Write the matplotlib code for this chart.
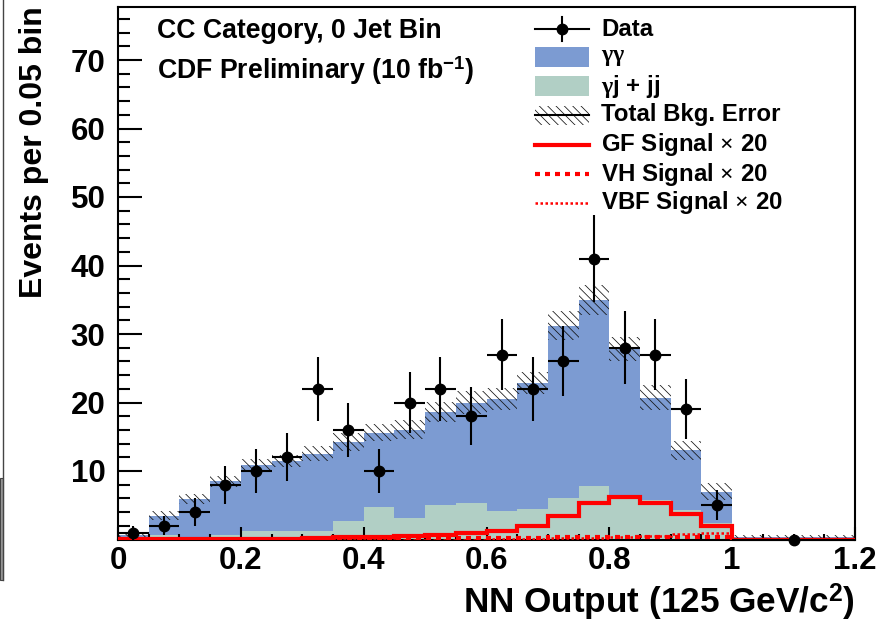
import numpy as np
import matplotlib
matplotlib.use("Agg")
import matplotlib.pyplot as plt
from matplotlib.lines import Line2D
from matplotlib.patches import Rectangle

plt.rcParams['font.family'] = ['Liberation Sans', 'DejaVu Sans']
plt.rcParams['font.weight'] = 'bold'
plt.rcParams['mathtext.fontset'] = 'custom'
plt.rcParams['mathtext.rm'] = 'Liberation Serif'
plt.rcParams['mathtext.it'] = 'Liberation Serif:italic'
plt.rcParams['mathtext.bf'] = 'Liberation Sans:bold'
plt.rcParams['hatch.linewidth'] = 0.55

HATCH = '\\\\\\\\'

# ---------------- data ----------------
bin_edges = [0.0, 0.05, 0.1, 0.15, 0.2, 0.25, 0.3, 0.35, 0.4, 0.45, 0.5, 0.55,
             0.6, 0.65, 0.7, 0.75, 0.8, 0.85, 0.9, 0.95, 1.0, 1.05, 1.1, 1.15, 1.2]

# gamma-jet + jet-jet background (bottom of stack)
bkg_gj_jj = [0.3, 0.7, 0.3, 0.7, 1.3, 1.3, 1.3, 2.7, 4.7, 3.1, 5.0, 5.4,
             4.1, 4.4, 6.0, 7.8, 6.0, 5.8, 4.3, 2.4, 0.1, 0.1, 0.1, 0.1]
# diphoton background (stacked on top)
bkg_gg = [0.4, 2.8, 5.6, 7.8, 9.6, 10.2, 11.2, 11.5, 10.9, 12.9, 13.6, 14.6,
          16.4, 18.5, 25.2, 27.2, 21.8, 14.9, 8.7, 4.6, 0.2, 0.2, 0.2, 0.2]
# total background uncertainty
bkg_err = [0.3, 0.6, 0.7, 0.8, 0.8, 0.9, 1.1, 1.3, 1.2, 1.4, 1.5, 1.7,
           1.6, 1.6, 2.1, 2.2, 1.8, 1.8, 1.4, 1.2, 0.3, 0.3, 0.3, 0.3]

# signals (x20)
sig_gf = [0.1, 0.1, 0.1, 0.1, 0.1, 0.1, 0.25, 0.3, 0.3, 0.55, 0.7, 0.9,
          1.3, 2.0, 3.4, 5.3, 6.25, 5.4, 3.7, 2.0, 0.0, 0.0, 0.0, 0.0]
sig_vh = [0.0, 0.0, 0.0, 0.0, 0.0, 0.0, 0.1, 0.1, 0.1, 0.15, 0.15, 0.2,
          0.2, 0.25, 0.3, 0.35, 0.4, 0.4, 0.35, 0.3, 0.0, 0.0, 0.0, 0.0]
sig_vbf = [0.0, 0.0, 0.0, 0.0, 0.0, 0.0, 0.0, 0.0, 0.0, 0.0, 0.0, 0.0,
           0.05, 0.1, 0.15, 0.2, 0.3, 0.5, 0.8, 0.9, 0.0, 0.0, 0.0, 0.0]

# observed data
data_x = [0.025, 0.075, 0.125, 0.175, 0.225, 0.275, 0.325, 0.375, 0.425, 0.475,
          0.525, 0.575, 0.625, 0.675, 0.725, 0.775, 0.825, 0.875, 0.925, 0.975, 1.1]
data_y = [1, 2, 4, 8, 10, 12, 22, 16, 10, 20, 22, 18, 27, 22, 26, 41, 28, 27, 19, 5, 0]
data_xerr = [0.025] * 20 + [0.1]
data_yerr = [1.0, 1.4, 2.0, 2.8, 3.2, 3.5, 4.7, 4.0, 3.2, 4.5, 4.7, 4.2,
             5.2, 4.7, 5.1, 6.4, 5.3, 5.2, 4.4, 2.2, 0.0]

x_ticks = [0, 0.2, 0.4, 0.6, 0.8, 1.0, 1.2]
x_ticklabels = ['0', '0.2', '0.4', '0.6', '0.8', '1', '1.2']
y_ticks = [10, 20, 30, 40, 50, 60, 70]

BLUE = '#7c9bd2'
GREEN = '#b1cfc5'

# ---------------- figure ----------------
W, H = 892, 624
fig = plt.figure(figsize=(W / 100, H / 100), dpi=100)
L, R, T, B = 118, 855, 7, 539.5
ax = fig.add_axes([L / W, (H - B) / H, (R - L) / W, (B - T) / H])

edges = np.array(bin_edges)
gj = np.array(bkg_gj_jj)
gg = np.array(bkg_gg)
tot = gj + gg
err = np.array(bkg_err)

ax.stairs(gj, edges, baseline=0, fill=True, facecolor=GREEN, edgecolor=GREEN, lw=0, zorder=1)
ax.stairs(tot, edges, baseline=gj, fill=True, facecolor=BLUE, edgecolor=BLUE, lw=0, zorder=1)
ax.stairs(tot + err, edges, baseline=tot - err, fill=True, facecolor='none',
          edgecolor='#111111', hatch=HATCH, lw=0, zorder=2)

ax.stairs(sig_vbf, edges, color='red', lw=1.8, linestyle=(0, (1, 1)), zorder=3)
ax.stairs(sig_vh, edges, color='red', lw=3, linestyle=(0, (1.2, 1.2)), zorder=3)
ax.stairs(sig_gf, edges, color='red', lw=3, zorder=4)

eb = ax.errorbar(data_x, data_y, xerr=data_xerr, yerr=data_yerr, fmt='o', color='black',
                 ms=7.5, elinewidth=1.5, capsize=0, zorder=6)
for art in eb.lines[0:1] + tuple(eb.lines[2]):
    art.set_clip_on(False)

ax.set_xlim(0, 1.2)
ax.set_ylim(0, (B - T) / 6.85)
ax.set_xticks(x_ticks)
ax.set_xticklabels(x_ticklabels)
ax.set_xticks(bin_edges, minor=True)
ax.set_yticks(y_ticks)
ax.set_yticks(np.arange(2, 78, 2), minor=True)

ax.tick_params(axis='both', which='both', direction='in', top=False, right=False,
               width=1.5, labelsize=22.5)
ax.tick_params(axis='y', which='major', length=17, pad=9)
ax.tick_params(axis='y', which='minor', length=8.5)
ax.tick_params(axis='x', which='major', length=9.5, pad=5)
ax.tick_params(axis='x', which='minor', length=4.5)
for lab in ax.get_xticklabels() + ax.get_yticklabels():
    lab.set_fontweight('bold')
for sp in ax.spines.values():
    sp.set_linewidth(1.5)

# axis titles
fig.text(34 / W, 1 - 6 / H, 'Events per 0.05 bin', rotation=90, ha='center', va='top',
         fontsize=23, fontweight='bold')
fig.text(R / W, 1 - 603 / H, r'NN Output (125 GeV/c$^{\mathbf{2}}$)', ha='right', va='center',
         fontsize=25.3, fontweight='bold')

# annotations
def axpt(px, py):
    return (px - L) / (R - L), (B - py) / (B - T)

ax.text(*axpt(157, 31), 'CC Category, 0 Jet Bin', transform=ax.transAxes, fontsize=19.2,
        fontweight='bold', va='center', ha='left')
ax.text(*axpt(157, 71), r'CDF Preliminary (10 fb$^{\mathbf{-1}}$)', transform=ax.transAxes,
        fontsize=19.2, fontweight='bold', va='center', ha='left')

# manual legend
rows = [29, 57, 86, 115, 145, 174, 203]
hx0, hx1, tx = 535, 589, 601
labels = ['Data', r'$\mathrm{\gamma\gamma}$', r'$\mathrm{\gamma}$j + jj', 'Total Bkg. Error',
          r'GF Signal$\,\times\,$20', r'VH Signal$\,\times\,$20', r'VBF Signal$\,\times\,$20']
for py, lab in zip(rows, labels):
    ax.text(*axpt(tx, py), lab, transform=ax.transAxes, fontsize=17.3, fontweight='bold',
            va='center', ha='left')

def hline(py, **kw):
    (x0, y0), (x1, _) = axpt(hx0, py), axpt(hx1, py)
    ax.add_line(Line2D([x0, x1], [y0, y0], transform=ax.transAxes, clip_on=False, **kw))

def hbox(py, **kw):
    x0, y0 = axpt(hx0, py + 9.5)
    x1, y1 = axpt(hx1, py - 9.5)
    ax.add_patch(Rectangle((x0, y0), x1 - x0, y1 - y0, transform=ax.transAxes,
                           clip_on=False, **kw))

# Data entry
hline(rows[0], color='black', lw=1.5)
xc, yc = axpt((hx0 + hx1) / 2, rows[0])
_, ya = axpt(0, rows[0] - 12)
_, yb = axpt(0, rows[0] + 12)
ax.add_line(Line2D([xc, xc], [ya, yb], transform=ax.transAxes, color='black', lw=1.5, clip_on=False))
ax.add_line(Line2D([xc], [yc], transform=ax.transAxes, marker='o', ms=7.5, color='black',
                   clip_on=False))
hbox(rows[1], facecolor=BLUE, edgecolor='none')
hbox(rows[2], facecolor=GREEN, edgecolor='none')
hbox(rows[3], facecolor='none', edgecolor='#111111', hatch=HATCH, lw=0)
hline(rows[3], color='black', lw=1.5)
hline(rows[4], color='red', lw=3)
hline(rows[5], color='red', lw=3, linestyle=(0, (1.2, 1.2)))
hline(rows[6], color='red', lw=1.8, linestyle=(0, (1, 1)))

# left-edge remnant of neighbouring panel
fig.add_artist(Line2D([2.5 / W, 2.5 / W], [1 - 580 / H, 1.0], transform=fig.transFigure,
                      color='#444444', lw=1))
fig.add_artist(Rectangle((0, 1 - 580 / H), 3 / W, 102 / H, transform=fig.transFigure,
                         facecolor='#999999', edgecolor='#444444', lw=0.8))

fig.savefig('out.png', dpi=100)
